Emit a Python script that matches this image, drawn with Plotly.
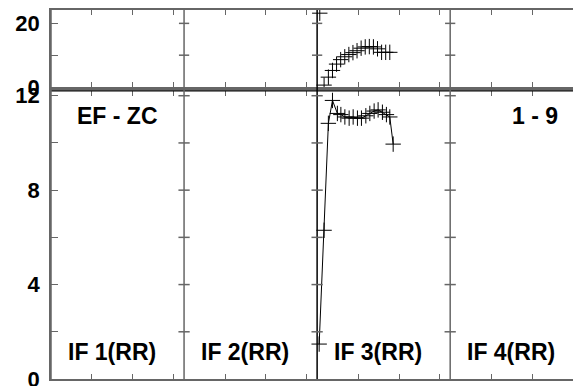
import plotly.graph_objects as go

# each panel covers 13 units on the shared x axis
panel_names = ["IF 1(RR)", "IF 2(RR)", "IF 3(RR)", "IF 4(RR)"]
panel_width = 13
x_minor = [4, 8, 12]

# top panel series (panel 3)
top_x = [26.26, 26.68, 27.1, 27.5, 27.9, 28.3, 28.7, 29.1, 29.5, 29.9,
         30.3, 30.7, 31.1, 31.5, 31.9, 32.3, 32.7, 33.1]
top_y = [23.2, 0.6, 3.1, 5.2, 7.2, 8.6, 9.5, 10.2, 10.8, 11.4,
         12.2, 12.6, 12.7, 12.6, 12.0, 10.9, 10.9, 10.9]

# bottom panel series (panel 3)
bot_x = [26.2, 26.68, 27.1, 27.5, 27.98, 28.32, 28.71, 29.13, 29.52, 29.94,
         30.33, 30.76, 31.15, 31.57, 31.96, 32.38, 32.77, 33.1, 33.43]
bot_y = [1.48, 6.3, 10.83, 11.8, 11.25, 11.2, 11.1, 11.05, 11.1, 11.05,
         11.05, 11.15, 11.25, 11.35, 11.4, 11.3, 11.2, 11.1, 9.95]

top_ticks = [0, 10, 20]
top_labels = ["0", "", "20"]
bot_ticks = [0, 2, 4, 6, 8, 10, 12]
bot_labels = ["0", "", "4", "", "8", "", "12"]

FONT = "Liberation Sans, Arial, sans-serif"
AX = "#666666"

x_ticks = [k * panel_width + t for k in range(4) for t in x_minor]

fig = go.Figure()

fig.add_trace(go.Scatter(
    x=top_x, y=top_y, xaxis="x2", yaxis="y2", mode="markers",
    marker=dict(symbol="cross-thin", size=11, line=dict(color="black", width=1)),
    showlegend=False))

fig.add_trace(go.Scatter(
    x=bot_x, y=bot_y, xaxis="x", yaxis="y", mode="lines+markers",
    line=dict(color="black", width=1),
    marker=dict(symbol="cross-thin", size=11, line=dict(color="black", width=1)),
    showlegend=False))

xcommon = dict(range=[0, 51.0], showgrid=False, zeroline=False, showline=True,
               linecolor=AX, linewidth=1.5, mirror="ticks", ticks="inside",
               ticklen=5, tickcolor=AX, tickvals=x_ticks, showticklabels=False,
               automargin=False)
ycommon = dict(showgrid=False, zeroline=False, showline=True, linecolor=AX,
               linewidth=1.5, ticks="inside", ticklen=7, tickcolor=AX,
               automargin=False, ticklabelstandoff=5, ticklabeloverflow="allow",
               tickfont=dict(family=FONT, size=22, color="black", weight="bold"))

fig.update_layout(
    width=573, height=386,
    margin=dict(l=51, r=0, t=10, b=7, autoexpand=False),
    paper_bgcolor="white", plot_bgcolor="white",
    xaxis=dict(anchor="y", **xcommon),
    xaxis2=dict(anchor="y2", matches="x", **xcommon),
    yaxis=dict(domain=[0, 0.7805], range=[0, 12.2], anchor="x",
               tickvals=bot_ticks, ticktext=bot_labels, **ycommon),
    yaxis2=dict(domain=[0.7913, 1], range=[0, 24.2], anchor="x2",
                tickvals=top_ticks, ticktext=top_labels, **ycommon),
)

# black top edge of the lower panel
fig.add_shape(type="line", xref="paper", yref="paper", x0=0, x1=1,
              y0=0.7805, y1=0.7805, line=dict(color="black", width=1.2))

# panel dividers with crossing ticks
for k in range(1, 4):
    d = k * panel_width
    fig.add_shape(type="line", xref="x", yref="paper", x0=d, x1=d, y0=0, y1=1,
                  line=dict(color="black" if k == 2 else AX, width=1.5))
    for v in bot_ticks[1:]:
        fig.add_shape(type="line", xref="x", yref="y", x0=d - 0.55, x1=d + 0.55,
                      y0=v, y1=v, line=dict(color=AX, width=1.5))
    for v in top_ticks[1:]:
        fig.add_shape(type="line", xref="x2", yref="y2", x0=d - 0.5, x1=d + 0.5,
                      y0=v, y1=v, line=dict(color=AX, width=1.5))
fig.add_shape(type="line", xref="x", yref="paper", x0=0, x1=0, y0=0, y1=1,
              line=dict(color=AX, width=1.5))

lab_font = dict(family=FONT, size=23, color="black", weight="bold")
for k, name in enumerate(panel_names):
    fig.add_annotation(x=k * panel_width + 1.45, y=1.16, xref="x", yref="y",
                       text=name, showarrow=False, xanchor="left", yanchor="middle",
                       font=lab_font)
fig.add_annotation(x=2.35, y=11.12, xref="x", yref="y", text="EF - ZC",
                   showarrow=False, xanchor="left", yanchor="middle", font=lab_font)
fig.add_annotation(x=49.75, y=11.12, xref="x", yref="y", text="1 - 9",
                   showarrow=False, xanchor="right", yanchor="middle", font=lab_font)

fig.write_html("out.html", config={"displayModeBar": False},
               post_script="document.body.style.margin='0';document.body.style.overflow='hidden';")
